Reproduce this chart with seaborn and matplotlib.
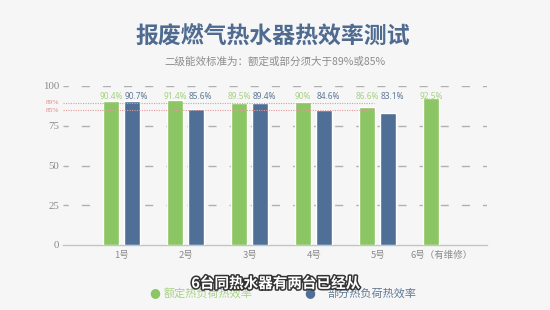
import numpy as np
import pandas as pd
import matplotlib
matplotlib.use("Agg")
import matplotlib.pyplot as plt
import matplotlib.patheffects as pe
import seaborn as sns

categories = ["1号", "2号", "3号", "4号", "5号", "6号（有维修）"]
rated = [90.4, 91.4, 89.5, 90, 86.6, 92.5]
partial = [90.7, 85.6, 89.4, 84.6, 83.1, np.nan]
series_names = ["额定热负荷热效率", "部分热负荷热效率"]
ref_values = [89, 85]
yticks = [0, 25, 50, 75, 100]

GREEN = "#8cc563"
BLUE = "#4f6f96"
GREEN_TXT = "#a6d283"
BLUE_TXT = "#5f7894"

sns.set_theme(style="white")
plt.rcParams["font.family"] = ["Noto Sans CJK SC", "DejaVu Sans"]

df = pd.DataFrame({
    "cat": categories * 2,
    "val": rated + partial,
    "series": [series_names[0]] * len(categories) + [series_names[1]] * len(categories),
})

fig = plt.figure(figsize=(5.5, 3.1), dpi=100, facecolor="#f6f6f6")
ax = fig.add_axes([63 / 550, 65 / 310, 424 / 550, 159 / 310])
ax.set_facecolor("none")

sns.barplot(data=df, x="cat", y="val", hue="series", hue_order=series_names,
            order=categories, palette=[GREEN, BLUE], width=0.656, gap=0.26,
            ax=ax, legend=False, zorder=3, saturation=1)

ax.set_xlim(-0.917, 5.708)
ax.set_ylim(0, 100)
ax.set_yticks(yticks)
ax.set_yticklabels([str(t) for t in yticks], fontfamily="Liberation Serif",
                   fontsize=7.8, color="#8a8a8a")
ax.tick_params(axis="y", length=0, pad=3)
ax.tick_params(axis="x", length=0, pad=4, labelsize=6.8, labelcolor="#8a8a8a")
ax.set_xlabel("")
ax.set_ylabel("")
for s in ["top", "right", "left"]:
    ax.spines[s].set_visible(False)
ax.spines["bottom"].set_color("#c4c4c4")
ax.spines["bottom"].set_linewidth(1.0)

for t in yticks[1:]:
    ax.axhline(t, color="#b0b0b0", lw=1.0, ls=(2, (5.8, 9.4)), zorder=1)

# reference lines
x0 = ax.get_xlim()[0]
for v in ref_values:
    ax.plot([x0, 3.95], [v, v], color="#e39a9a", lw=0.8, ls=(0, (1, 1.2)), zorder=4)
    ax.text(-0.01, v + (0.6 if v == 89 else -0.6), f"{v}%",
            transform=ax.get_yaxis_transform(), ha="right",
            va="center", fontsize=5.3, color="#e08a8a", fontfamily="Liberation Serif")

# value labels
label_y = 93.3
for ci, (container, vals, col) in enumerate(zip(ax.containers, [rated, partial],
                                                 [GREEN_TXT, BLUE_TXT])):
    good = [v for v in vals if not np.isnan(v)]
    bars = [b for b in container.patches if not np.isnan(b.get_height())]
    for b, v in zip(bars, good):
        if ci == 0:
            ax.text(b.get_x() + b.get_width() / 2, label_y, f"{v:g}%", ha="center",
                    va="center", fontsize=6.0, color=col, fontfamily="Noto Sans")
        else:
            ax.text(b.get_x(), label_y, f"{v:g}%", ha="left", va="center",
                    fontsize=6.0, color=col, fontweight="bold", fontfamily="Noto Sans")

fig.text(273 / 550, 1 - 37 / 310, "报废燃气热水器热效率测试", ha="center", va="center",
         fontsize=16.5, fontweight="bold", color="#4f6b90")
fig.text(275 / 550, 1 - 61.5 / 310, "二级能效标准为：额定或部分须大于89%或85%",
         ha="center", va="center", fontsize=7.6, color="#8c8c8c")

# legend
fig.text(155 / 550, 1 - 293 / 310, "●", ha="center", va="center", fontsize=9,
         color=GREEN, family=["DejaVu Sans"])
fig.text(164 / 550, 1 - 293 / 310, series_names[0], ha="left", va="center",
         fontsize=8, color=GREEN_TXT)
fig.text(310 / 550, 1 - 293 / 310, "●", ha="center", va="center", fontsize=9,
         color=BLUE, family=["DejaVu Sans"])
fig.text(327 / 550, 1 - 293 / 310, series_names[1], ha="left", va="center",
         fontsize=8, color=BLUE_TXT)

# video subtitle overlay
fig.text(276 / 550, 1 - 283 / 310, "6台同热水器有两台已经从", ha="center", va="center",
         fontsize=10.5, fontweight="bold", color="white",
         path_effects=[pe.withStroke(linewidth=2.2, foreground="#333333")])

fig.savefig("out.png", dpi=100, facecolor=fig.get_facecolor())
